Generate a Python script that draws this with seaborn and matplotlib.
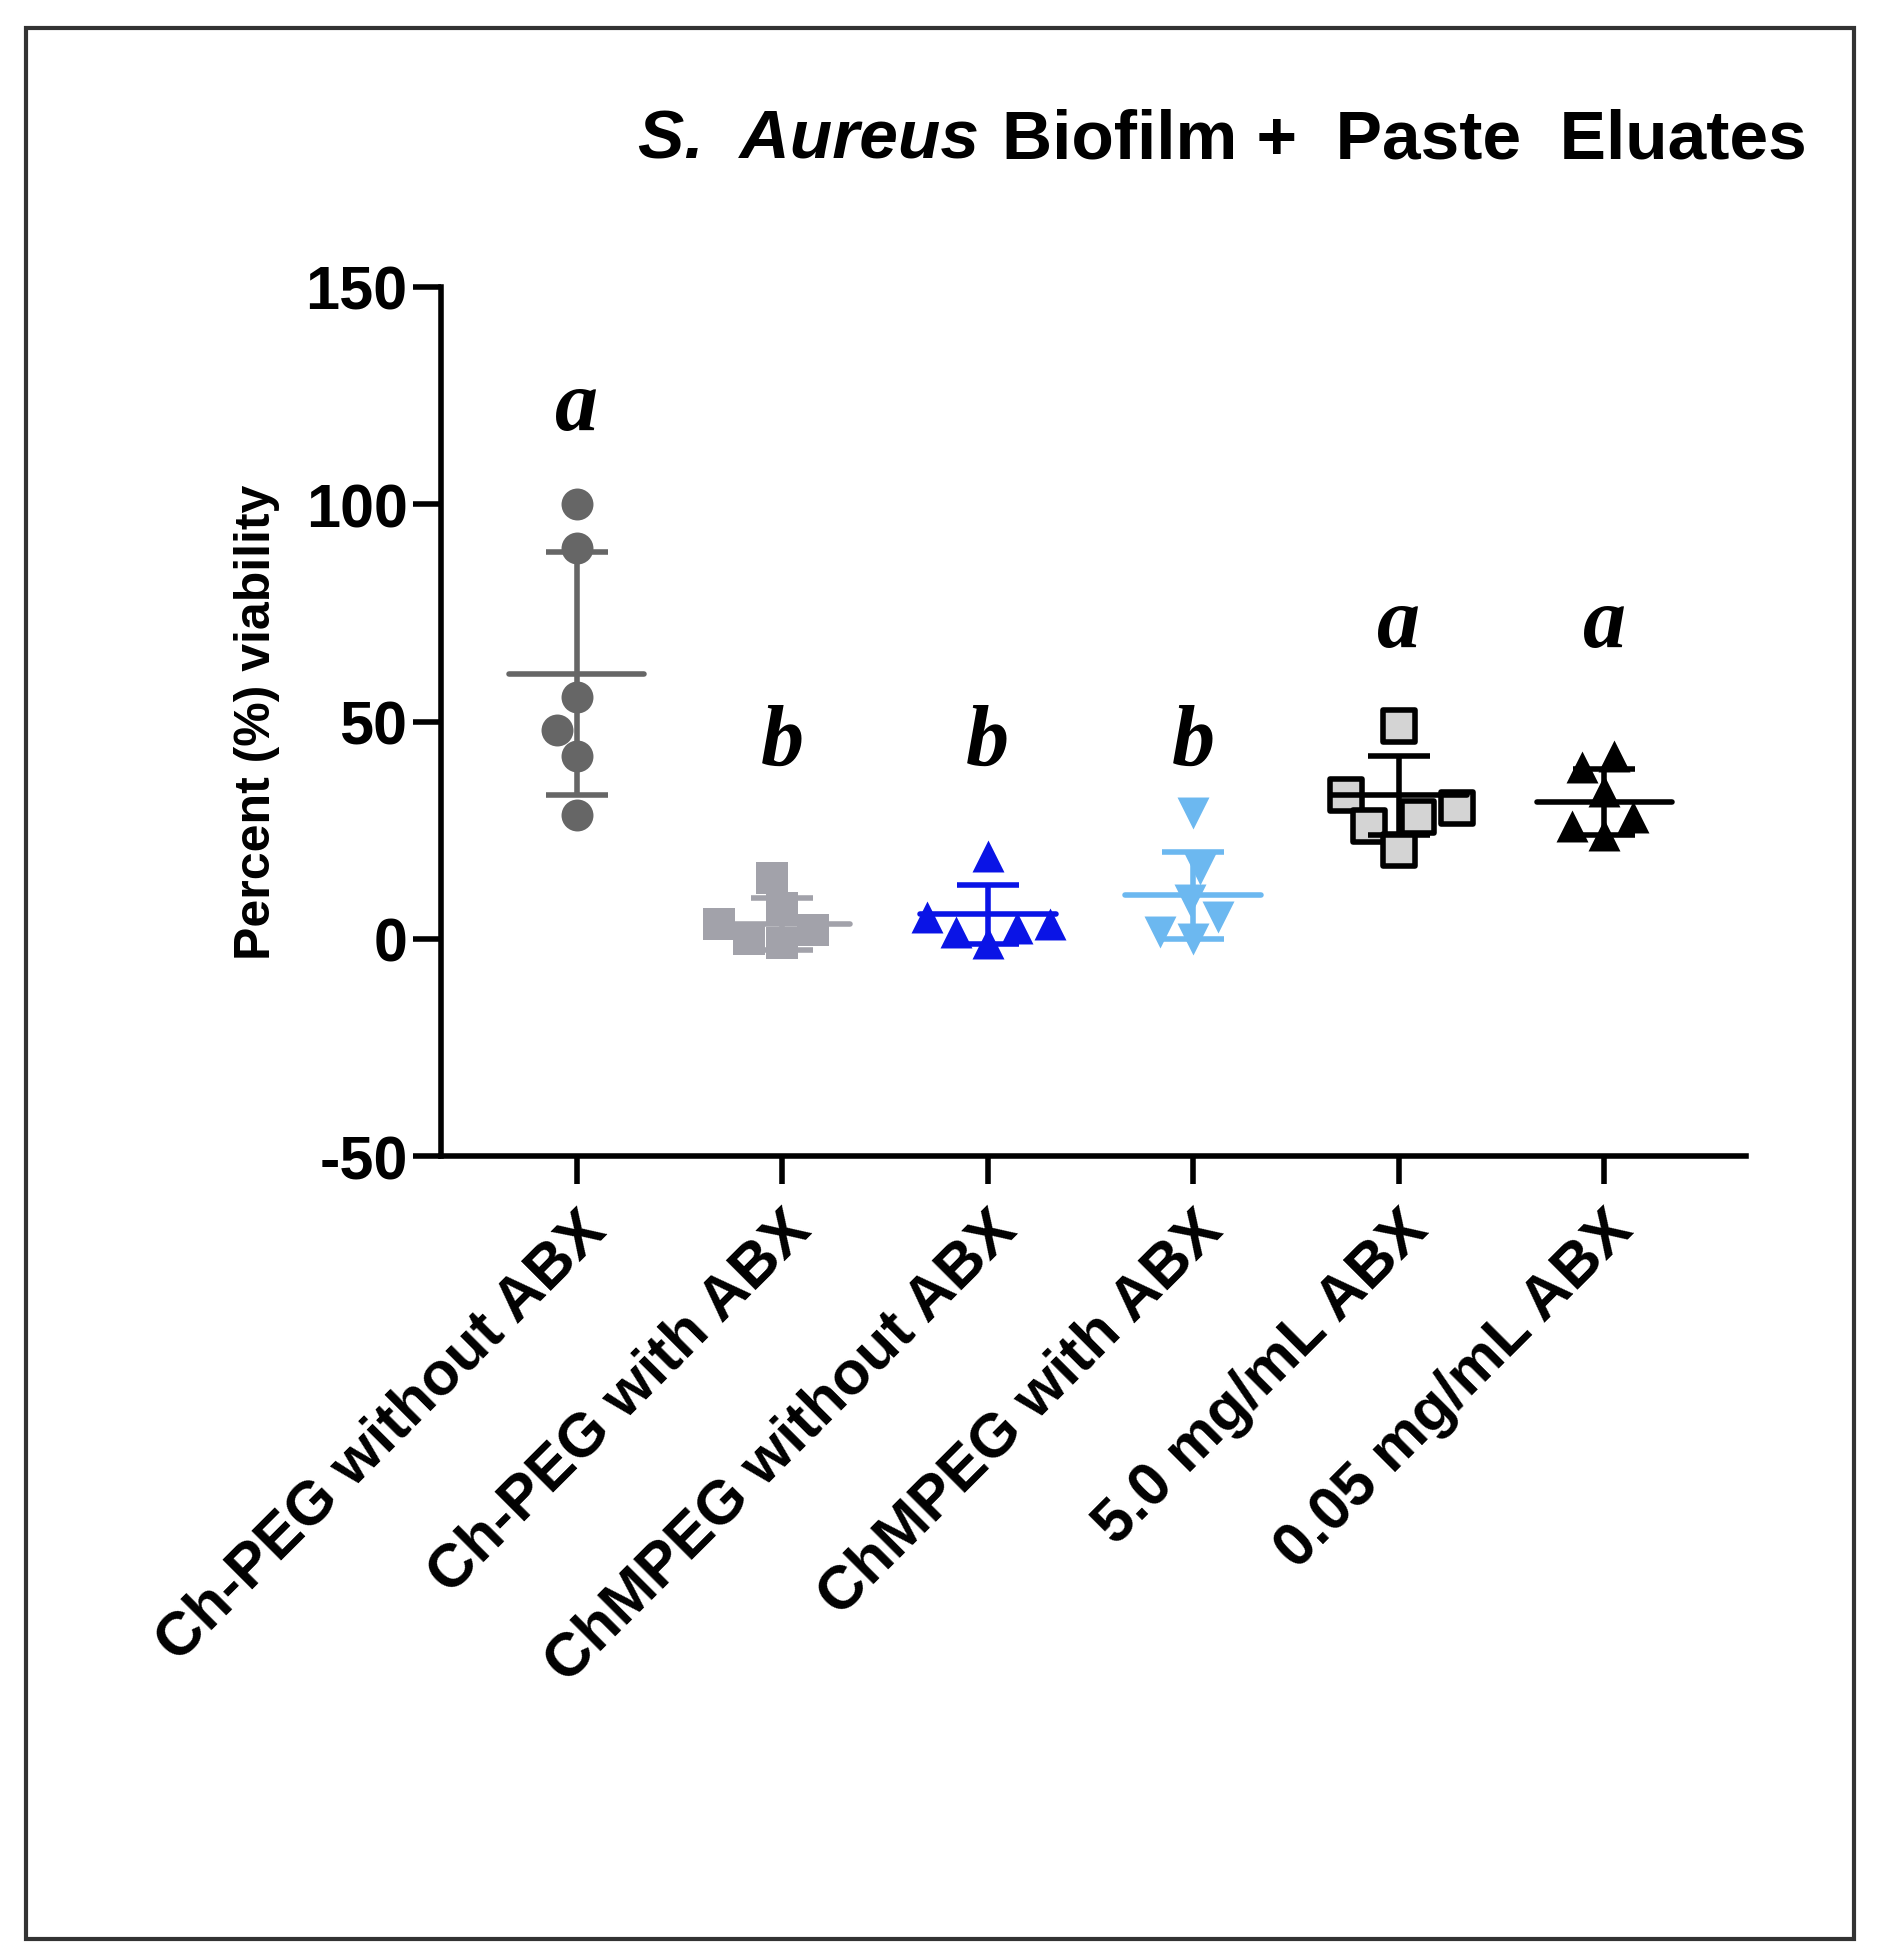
import matplotlib
matplotlib.use("Agg")
import matplotlib.pyplot as plt
import seaborn as sns
import numpy as np
from matplotlib.patches import Rectangle

# data
groups = ["Ch-PEG without ABX", "Ch-PEG with ABX", "ChMPEG without ABX",
          "ChMPEG with ABX", "5.0 mg/mL ABX", "0.05 mg/mL ABX"]
vals_chpeg = [100, 90, 55.6, 48, 42, 28.5]
vals_chpeg_abx = [14, 7, 3.5, 2, 0, -1]
vals_chmpeg = [19, 5, 3.5, 2.5, 1.5, -1]
vals_chmpeg_abx = [29, 16, 9, 5, 1.5, 0]
vals_5mg = [49, 33, 30, 28, 26, 20.5]
vals_005mg = [42, 39.5, 34, 28, 26, 24]
means = [61, 3.5, 5.7, 10, 33, 31.5]
sds = [28, 6, 6.8, 10, 9, 7.5]
letters = ["a", "b", "b", "b", "a", "a"]
letter_y = [122, 45, 45, 45, 72, 72]

all_vals = [vals_chpeg, vals_chpeg_abx, vals_chmpeg, vals_chmpeg_abx, vals_5mg, vals_005mg]
markers = ["o", "s", "^", "v", "s", "^"]
colors = ["#666666", "#a2a2aa", "#0a14e6", "#6cb8f0", "#d4d4d4", "#000000"]
edges = ["#666666", "#a2a2aa", "#0a14e6", "#6cb8f0", "#000000", "#000000"]
line_colors = ["#666666", "#a2a2aa", "#0a14e6", "#6cb8f0", "#000000", "#000000"]

sns.set_theme(style="ticks")
plt.rcParams['font.family'] = ['Liberation Sans', 'DejaVu Sans']
plt.rcParams['font.weight'] = 'bold'
plt.rcParams['axes.unicode_minus'] = False
plt.rcParams['text.color'] = 'black'
plt.rcParams['xtick.color'] = 'black'
plt.rcParams['ytick.color'] = 'black'
plt.rcParams['axes.labelcolor'] = 'black'

fig = plt.figure(figsize=(18.92, 19.58), dpi=100)
ax = fig.add_axes([0.233, 0.409, 0.69, 0.444])

for i, vals in enumerate(all_vals):
    sns.swarmplot(x=[groups[i]] * len(vals), y=vals, order=groups, ax=ax,
                  marker=markers[i], color=colors[i], edgecolor=edges[i],
                  linewidth=4 if i == 4 else 0, size=23, zorder=2)

x = np.arange(len(groups))
for i in range(len(groups)):
    ax.errorbar(x[i], means[i], yerr=sds[i], fmt="none", ecolor=line_colors[i],
                elinewidth=4, capsize=22, capthick=4, zorder=3)
    ax.plot([x[i] - 0.33, x[i] + 0.33], [means[i], means[i]],
            color=line_colors[i], lw=4, zorder=3)
    ax.text(x[i], letter_y[i], letters[i], ha="center", va="center",
            fontsize=62, fontstyle="italic", fontweight="bold",
            family="Liberation Serif")

ax.set_xlim(-0.66, 5.69)
ax.set_ylim(-50, 150)
ax.set_yticks([-50, 0, 50, 100, 150])
ax.set_xticks(x)
ax.set_xticklabels(groups, rotation=45, ha="right", rotation_mode="anchor",
                   fontsize=44, fontweight="bold")
ax.tick_params(axis="y", labelsize=44, width=4, length=20, pad=4)
ax.tick_params(axis="x", width=4, length=20, pad=12)
for t in ax.get_yticklabels():
    t.set_fontweight("bold")
ax.set_ylabel("Percent (%) viability", fontsize=36, fontweight="bold", labelpad=18)
ax.set_xlabel("")
for s in ["left", "bottom"]:
    ax.spines[s].set_linewidth(4)
    ax.spines[s].set_color("black")
sns.despine(ax=ax)

# title: italic species name followed by bold remainder
main = fig.text(0.955, 0.928, "Biofilm +  Paste  Eluates", ha="right", va="center",
                fontsize=50, fontweight="bold")
fig.canvas.draw()
bb = main.get_window_extent().transformed(fig.transFigure.inverted())
fig.text(bb.x0 - 0.012, 0.928, "S.  Aureus", ha="right", va="center",
         fontsize=50, fontweight="bold", fontstyle="italic")

fig.patches.append(Rectangle((0.014, 0.009), 0.966, 0.976, transform=fig.transFigure,
                             fill=False, edgecolor="#333333", lw=3))

fig.savefig("out.png", dpi=100)
